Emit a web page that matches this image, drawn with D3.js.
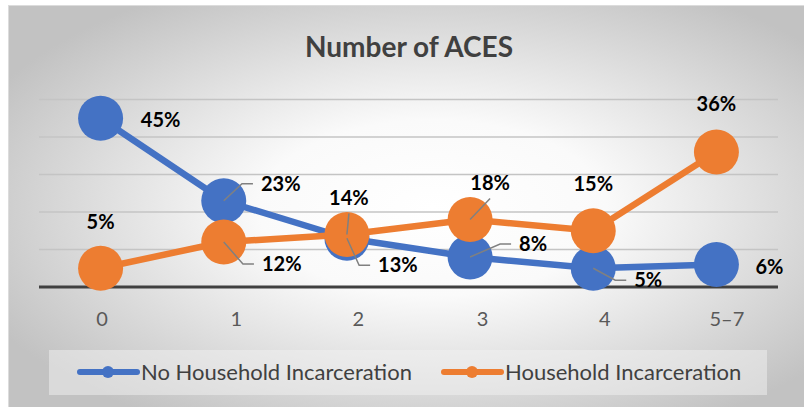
<!DOCTYPE html>
<html>
<head>
<meta charset="utf-8">
<script src="https://cdn.jsdelivr.net/npm/d3@7"></script>
<style>
  html, body { margin: 0; padding: 0; background: #fff; }
  svg { display: block; }
</style>
</head>
<body>
<svg id="chart" width="804" height="407"></svg>
<script>
// ---- data ----
const categories = ["0", "1", "2", "3", "4", "5\u20137"];
const noHouseholdIncarceration = [45, 23, 13, 8, 5, 6];
const householdIncarceration = [5, 12, 14, 18, 15, 36];
const seriesNames = ["No Household Incarceration", "Household Incarceration"];
const yTicks = [0, 10, 20, 30, 40, 50];
const title = "Number of ACES";

// ---- label layout (offsets relative to the point, Excel-style manual placement) ----
const blueLabelLayout = [
  {dx: 60, dy: 2, leader: null},
  {dx: 57, dy: -17, leader: "side"},
  {dx: 51, dy: 27, leader: "side"},
  {dx: 63, dy: -13, leader: "side"},
  {dx: 55, dy: 12, leader: "side"},
  {dx: 53, dy: 2, leader: null}
];
const orangeLabelLayout = [
  {dx: 0, dy: -46, leader: null},
  {dx: 58, dy: 22, leader: "side"},
  {dx: 2, dy: -37, leader: "above"},
  {dx: 20, dy: -37, leader: "above"},
  {dx: 0, dy: -47, leader: null},
  {dx: 0, dy: -48, leader: null}
];
// horizontal shift of category labels relative to their points (as in the reference)
const tickLabelShift = [1, 12, 11, 12, 11, 10];

const colors = ["#4472C4", "#ED7D31"];

const svg = d3.select("#chart");

// background gradient
const defs = svg.append("defs");
const grad = defs.append("radialGradient").attr("id", "bg")
  .attr("cx", "0.53").attr("cy", "0.5").attr("r", "0.62");
grad.append("stop").attr("offset", "0").attr("stop-color", "#ffffff");
grad.append("stop").attr("offset", "0.35").attr("stop-color", "#fafafa");
grad.append("stop").attr("offset", "1").attr("stop-color", "#c2c2c2");

svg.append("rect").attr("x", 8.5).attr("y", 5.5).attr("width", 800).attr("height", 405)
  .attr("fill", "url(#bg)").attr("stroke", "#dcdcdc").attr("stroke-width", 1);

// scales
const x = d3.scalePoint().domain(categories).range([39, 778]).padding(0.5);
const y = d3.scaleLinear().domain([0, 50]).range([287, 99.5]);

// gridlines
const grid = svg.append("g");
grid.selectAll("line").data(yTicks.filter(t => t > 0)).join("line")
  .attr("x1", 39).attr("x2", 778)
  .attr("y1", d => y(d)).attr("y2", d => y(d))
  .attr("stroke", "#c4c4c4").attr("stroke-width", 1.5);

// x axis (baseline + labels)
const xAxis = d3.axisBottom(x).tickSize(0);
const gx = svg.append("g").attr("transform", `translate(0,${y(0)})`).call(xAxis);
gx.select(".domain").remove();
svg.append("line").attr("x1", 39).attr("x2", 778).attr("y1", y(0)).attr("y2", y(0))
  .attr("stroke", "#404040").attr("stroke-width", 3);
gx.selectAll("text")
  .attr("font-family", "Lato, 'Open Sans', sans-serif")
  .attr("font-size", 20).attr("fill", "#595959").attr("dy", "0.32em").attr("y", 33)
  .attr("dx", (d, i) => tickLabelShift[i]);

// title
svg.append("text").attr("x", 409).attr("y", 57).attr("text-anchor", "middle")
  .attr("font-family", "Lato, 'Open Sans', sans-serif").attr("font-weight", "bold")
  .attr("font-size", 28).attr("fill", "#404040").text(title);

// series
const series = [noHouseholdIncarceration, householdIncarceration];
const line = d3.line().x((d, i) => x(categories[i])).y(d => y(d));
series.forEach((vals, si) => {
  const g = svg.append("g");
  g.append("path").datum(vals).attr("d", line).attr("fill", "none")
    .attr("stroke", colors[si]).attr("stroke-width", 6.5).attr("stroke-linejoin", "round");
  g.selectAll("circle").data(vals).join("circle")
    .attr("cx", (d, i) => x(categories[i])).attr("cy", d => y(d)).attr("r", 22.5)
    .attr("fill", colors[si]);
});

// labels + leaders
const labelG = svg.append("g");
const layouts = [blueLabelLayout, orangeLabelLayout];
const labelFont = "Lato, 'Open Sans', sans-serif";
series.forEach((vals, si) => {
  vals.forEach((v, i) => {
    const px = x(categories[i]), py = y(v);
    const L = layouts[si][i];
    const lx = px + L.dx, ly = py + L.dy;
    const txt = labelG.append("text").attr("x", lx).attr("y", ly).attr("dy", "0.35em")
      .attr("text-anchor", "middle").attr("font-family", labelFont)
      .attr("font-weight", "bold").attr("font-size", 20).attr("fill", "#000")
      .text(v + "%");
    if (L.leader) {
      const w = txt.node().getComputedTextLength();
      let pts;
      if (L.leader === "side") {
        const ex = lx - w / 2 - 8;
        pts = [[px, py], [ex - 11, ly], [ex, ly]];
      } else {
        pts = [[px, py], [lx, ly + 16]];
      }
      labelG.insert("path", "text").attr("d", d3.line()(pts)).attr("fill", "none")
        .attr("stroke", "#808080").attr("stroke-width", 1.5);
    }
  });
});

// legend
const lg = svg.append("g");
lg.append("rect").attr("x", 49).attr("y", 350).attr("width", 718).attr("height", 45)
  .attr("fill", "#f2f2f2").attr("fill-opacity", 0.5);
const legendItems = [{x0: 80, name: seriesNames[0]}, {x0: 444, name: seriesNames[1]}];
legendItems.forEach((it, i) => {
  lg.append("line").attr("x1", it.x0).attr("x2", it.x0 + 57).attr("y1", 372).attr("y2", 372)
    .attr("stroke", colors[i]).attr("stroke-width", 6).attr("stroke-linecap", "round");
  lg.append("circle").attr("cx", it.x0 + 28).attr("cy", 372).attr("r", 6).attr("fill", colors[i]);
  lg.append("text").attr("x", it.x0 + 61).attr("y", 372).attr("dy", "0.35em")
    .attr("font-family", "Lato, 'Open Sans', sans-serif").attr("font-size", 22)
    .attr("fill", "#404040").text(it.name);
});
</script>
</body>
</html>
